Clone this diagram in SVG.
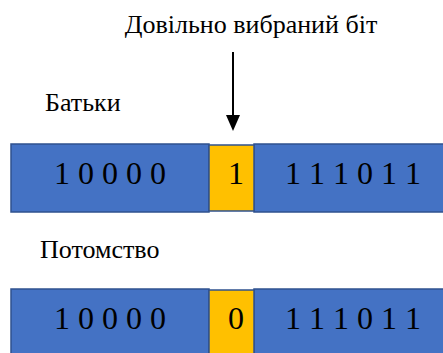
<svg xmlns="http://www.w3.org/2000/svg" width="443" height="353" viewBox="0 0 443 353">
  <style>
    .seg { fill: #4472C4; stroke: #2F528F; stroke-width: 1.5; }
    .bit { fill: #FFC000; stroke: #2F528F; stroke-width: 1.5; }
    text { font-family: "Liberation Serif", "Times New Roman", serif; fill: #000; }
    .lbl { font-size: 26px; }
    .num { font-size: 32px; text-anchor: middle; }
  </style>

  <g id="title">
    <text class="lbl" x="251" y="33" text-anchor="middle">Довільно вибраний біт</text>
  </g>

  <g id="connectors">
    <line x1="233" y1="52" x2="233" y2="116" stroke="#000" stroke-width="2"/>
    <path d="M226,115 L240,115 L233,131 Z" fill="#000"/>
  </g>

  <g id="parents-label">
    <text class="lbl" x="45" y="111">Батьки</text>
  </g>

  <!-- parent chromosome: left part, chosen bit, right part -->
  <g id="parents">
    <rect class="seg" x="11" y="144" width="198" height="68"/>
    <rect class="seg" x="254" y="144" width="195" height="68"/>
    <rect class="bit" x="209" y="145" width="45" height="66"/>
    <text class="num" x="110" y="184">1 0 0 0 0</text>
    <text class="num" x="236" y="184">1</text>
    <text class="num" x="353" y="184">1 1 1 0 1 1</text>
  </g>

  <g id="offspring-label">
    <text class="lbl" x="40" y="258">Потомство</text>
  </g>

  <!-- offspring chromosome with the flipped bit -->
  <g id="offspring">
    <rect class="seg" x="11" y="289" width="198" height="70"/>
    <rect class="seg" x="254" y="289" width="195" height="70"/>
    <rect class="bit" x="209" y="290" width="45" height="68"/>
    <text class="num" x="110" y="329">1 0 0 0 0</text>
    <text class="num" x="236" y="329">0</text>
    <text class="num" x="353" y="329">1 1 1 0 1 1</text>
  </g>
</svg>
